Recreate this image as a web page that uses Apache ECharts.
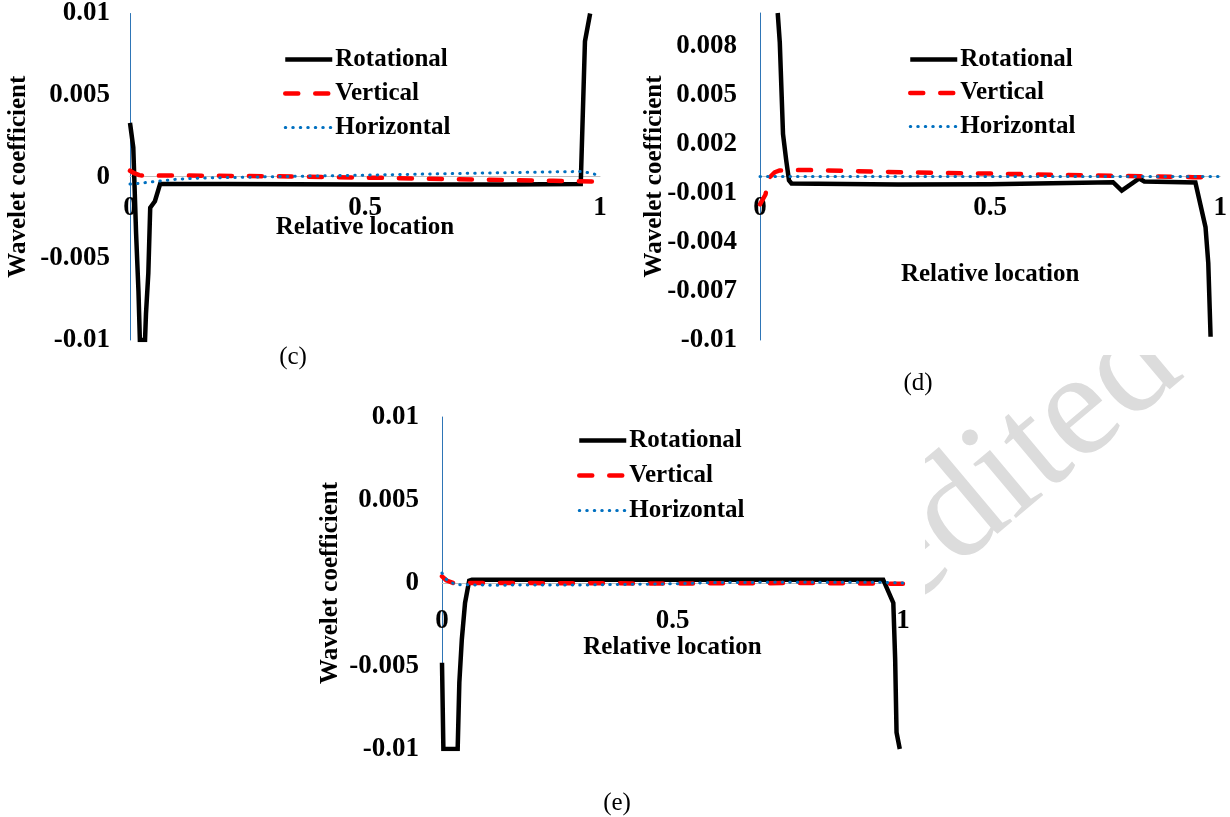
<!DOCTYPE html>
<html><head><meta charset="utf-8">
<script src="https://cdn.jsdelivr.net/npm/echarts@6/dist/echarts.min.js"></script>
<style>html,body{margin:0;padding:0;background:#fff}#chart{width:1230px;height:817px}</style>
</head><body><div id="chart"></div>
<script>
// ---- data (x = relative location, y = wavelet coefficient) ----
const seriesNames = ['Rotational', 'Vertical', 'Horizontal'];
const panelCaptions = ['(c)', '(d)', '(e)'];
const xAxisTitle = 'Relative location';
const yAxisTitle = 'Wavelet coefficient';
const watermarkText = 'Unedited';

// panel (c)
const cRotational = [[0,0.0033],[0.007,0.0018],[0.013,-0.0035],[0.018,-0.007],[0.021,-0.01],[0.032,-0.01],[0.034,-0.0084],[0.039,-0.0059],[0.043,-0.0019],[0.053,-0.0015],[0.064,-0.00045],[0.2,-0.00045],[0.5,-0.00047],[0.8,-0.00047],[0.959,-0.00045],[0.968,0.0083],[0.979,0.01]];
const cVertical = [[0,0.00037],[0.01,0.0002],[0.02,0.0001],[0.03,0.00006],[0.1,0.00008],[0.3,0.00003],[0.5,-0.00005],[0.7,-0.00015],[0.9,-0.00025],[1,-0.0003]];
const cHorizontal = [[0,-0.00045],[0.02,-0.0004],[0.05,-0.0003],[0.1,-0.00015],[0.15,-0.00008],[0.3,0],[0.5,0.0001],[0.7,0.0002],[0.9,0.0003],[0.96,0.00032],[0.985,0.0002],[1,0.00002]];

// panel (d)
const dRotational = [[0.0385,0.01],[0.043,0.0082],[0.05,0.0026],[0.057,0.00098],[0.063,-0.00024],[0.0685,-0.00043],[0.3,-0.00049],[0.5,-0.00047],[0.767,-0.00035],[0.786,-0.00086],[0.824,-0.00012],[0.835,-0.0003],[0.946,-0.00037],[0.968,-0.0031],[0.974,-0.0053],[0.979,-0.0098]];
const dVertical = [[0,-0.0017],[0.012,-0.0011],[0.018,-0.00014],[0.032,0.00026],[0.043,0.00037],[0.1,0.0004],[0.31,0.00026],[0.52,0.00017],[0.73,0.00006],[0.94,-0.00004],[0.97,-0.00005]];
const dHorizontal = [[0,0],[0.25,0],[0.5,0],[0.75,0],[1,0]];

// panel (e)
const eRotational = [[0,-0.0048],[0.003,-0.01],[0.034,-0.01],[0.0376,-0.006],[0.043,-0.0034],[0.05,-0.0012],[0.059,0.00014],[0.065,0.0002],[0.3,0.0002],[0.6,0.0002],[0.957,0.0002],[0.979,-0.0012],[0.983,-0.0046],[0.986,-0.009],[0.993,-0.01]];
const eVertical = [[0,0.0004],[0.01,0.00015],[0.024,0],[0.1,0],[0.5,-0.00003],[0.8,0],[1,-0.00005]];
const eHorizontal = [[0,0.0006],[0.01,0.0002],[0.03,-0.0001],[0.1,-0.00013],[0.3,-0.00012],[0.5,-0.00005],[0.6,0.00003],[0.8,0.00005],[0.95,0.00005],[1,0]];

const yTickIntervals = [0.005, 0.003, 0.005];
const yMin = -0.01, yMax = 0.01;
const xMin = 0, xMax = 1, xInterval = 0.5;

// ---- layout / styling ----
const panels = [
  {grid:{left:130, top:13, width:470, height:327}, data:[cRotational,cVertical,cHorizontal],
   xLabelMargin:18, xNameGap:39, yLabelMargin:20, yNameGap:99, legend:{left:283, top:47, gap:9}, caption:[293,357],
   area:[0,0,635,345]},
  {grid:{left:760, top:13, width:467, height:327}, data:[dRotational,dVertical,dHorizontal],
   xLabelMargin:18, xNameGap:86, yLabelMargin:23, yNameGap:93, legend:{left:908, top:47, gap:8.5}, caption:[918,383],
   area:[640,0,590,355]},
  {grid:{left:442, top:417, width:461, height:332}, data:[eRotational,eVertical,eHorizontal],
   xLabelMargin:25, xNameGap:52, yLabelMargin:23, yNameGap:99, legend:{left:577, top:428, gap:10}, caption:[617,803],
   area:[315,400,610,370]}
];
const FONT = 'Liberation Serif';
const lineStyles = [
  {color:'#000000', width:4.5, type:'solid', cap:'butt', join:'miter'},
  {color:'#FF0000', width:4.5, type:[13,17], cap:'round'},
  {color:'#0070C0', width:3, type:[0.5,7], cap:'round'}
];

const grids = [], xAxes = [], yAxes = [], series = [], legends = [], graphics = [];
panels.forEach((p, i) => {
  grids.push(Object.assign({show:true, backgroundColor:'#ffffff', borderWidth:0, containLabel:false}, p.grid));
  xAxes.push({
    gridIndex:i, type:'value', min:xMin, max:xMax, interval:xInterval,
    position:'bottom', offset:-p.grid.height * (0 - yMin) / (yMax - yMin),
    axisLine:{show:true, onZero:false, lineStyle:{color:'#bfbfbf', width:1}},
    axisTick:{show:false}, splitLine:{show:false},
    axisLabel:{margin:p.xLabelMargin, color:'#000', fontFamily:FONT, fontWeight:'bold', fontSize:27},
    name:xAxisTitle, nameLocation:'middle', nameGap:p.xNameGap, nameMoveOverlap:false,
    nameTextStyle:{color:'#000', fontFamily:FONT, fontWeight:'bold', fontSize:25}
  });
  yAxes.push({
    gridIndex:i, type:'value', min:yMin, max:yMax, interval:yTickIntervals[i],
    axisLine:{show:true, onZero:false, lineStyle:{color:'#2E75B6', width:1}},
    axisTick:{show:false}, splitLine:{show:false},
    axisLabel:{margin:p.yLabelMargin, color:'#000', fontFamily:FONT, fontWeight:'bold', fontSize:27, showMaxLabel: i === 1 ? false : true},
    name:yAxisTitle, nameLocation:'middle', nameGap:p.yNameGap, nameMoveOverlap:false,
    nameTextStyle:{color:'#000', fontFamily:FONT, fontWeight:'bold', fontSize:25}
  });
  seriesNames.forEach((nm, k) => {
    series.push({
      name:nm, type:'line', xAxisIndex:i, yAxisIndex:i, data:p.data[k],
      symbol:'none', showSymbol:false, smooth:false, clip:true, animation:false,
      lineStyle:lineStyles[k], itemStyle:{color:lineStyles[k].color}, z:2+k
    });
  });
  legends.push({
    data:seriesNames, orient:'vertical', left:p.legend.left, top:p.legend.top,
    itemWidth:47, itemHeight:14, itemGap:p.legend.gap, selectedMode:false, padding:0,
    itemStyle:{opacity:0}, lineStyle:{width:'inherit', type:'inherit', cap:'inherit'},
    textStyle:{color:'#000', fontFamily:FONT, fontWeight:'bold', fontSize:25, padding:[0,0,0,-2]}
  });
  graphics.push({type:'rect', z:-5, silent:true,
    shape:{x:p.area[0], y:p.area[1], width:p.area[2], height:p.area[3]}, style:{fill:'#ffffff'}});
  graphics.push({type:'text', x:p.caption[0], y:p.caption[1], z:10,
    style:{text:panelCaptions[i], fill:'#000', font:'25px "Liberation Serif"', textAlign:'center', textVerticalAlign:'middle'}});
});
graphics.unshift({type:'text', x:950, y:522, rotation:40*Math.PI/180, z:-10, silent:true,
  style:{text:watermarkText, fill:'#dcdcdc', font:'150px "Liberation Serif"', textAlign:'center', textVerticalAlign:'middle'}});

const chart = echarts.init(document.getElementById('chart'), null, {renderer:'canvas'});
chart.setOption({
  animation:false, backgroundColor:'#ffffff',
  grid:grids, xAxis:xAxes, yAxis:yAxes, series:series, legend:legends,
  graphic:{elements:graphics}
});
</script></body></html>
